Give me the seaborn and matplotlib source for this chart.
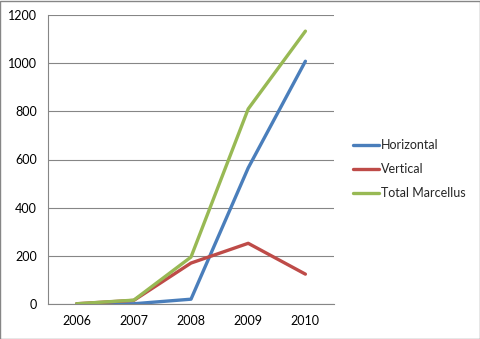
import matplotlib
matplotlib.use("Agg")
import matplotlib.pyplot as plt
import seaborn as sns
import pandas as pd
from matplotlib.ticker import FixedLocator

years = ["2006", "2007", "2008", "2009", "2010"]
horizontal = [0, 1, 20, 565, 1008]
vertical = [1, 15, 170, 252, 124]
total = [1, 16, 195, 810, 1133]
series_names = ["Horizontal", "Vertical", "Total Marcellus"]
colors = ["#4A7EBB", "#BE4B48", "#98B954"]

rows = []
for name, vals in zip(series_names, [horizontal, vertical, total]):
    for i, (yr, v) in enumerate(zip(years, vals)):
        rows.append({"pos": i, "year": yr, "value": v, "series": name})
df = pd.DataFrame(rows)

sns.set_theme(style="white")
plt.rcParams["font.family"] = ["Lato", "DejaVu Sans"]

fig = plt.figure(figsize=(4.81, 3.39), dpi=100)
ax = fig.add_axes([48 / 481, 35 / 339, 286 / 481, 289 / 339])

sns.lineplot(data=df, x="pos", y="value", hue="series", hue_order=series_names,
             palette=colors, linewidth=2.4, ax=ax, legend=True)

ax.set_xlim(-0.5, 4.5)
ax.set_ylim(0, 1200)
ax.set_yticks(range(0, 1201, 200))
ax.set_xticks(range(len(years)))
ax.set_xticklabels(years)
ax.xaxis.set_minor_locator(FixedLocator([i - 0.5 for i in range(len(years) + 1)]))
ax.tick_params(axis="x", which="major", length=0, pad=8, labelsize=9, colors="black")
ax.tick_params(axis="x", which="minor", length=5, width=0.8, color="#868686", direction="out")
ax.tick_params(axis="y", length=5, width=0.8, color="#868686", direction="out",
               labelsize=9, labelcolor="black", pad=3)
ax.yaxis.grid(True, color="#868686", linewidth=0.8)
ax.xaxis.grid(False)
ax.set_axisbelow(True)
for s in ["top", "right"]:
    ax.spines[s].set_visible(False)
for s in ["left", "bottom"]:
    ax.spines[s].set_color("#868686")
    ax.spines[s].set_linewidth(0.8)
ax.set_xlabel("")
ax.set_ylabel("")

leg = ax.legend(loc="center left", bbox_to_anchor=(353 / 481, 170 / 339),
                bbox_transform=fig.transFigure, frameon=False, fontsize=9,
                handlelength=2.1, handletextpad=0.15, labelspacing=0.95,
                borderpad=0, borderaxespad=0)

fig.patches.append(plt.Rectangle((0.001, 0.001), 0.997, 0.996, transform=fig.transFigure,
                                 fill=False, edgecolor="#868686", linewidth=1))
fig.savefig("out.png", dpi=100)
